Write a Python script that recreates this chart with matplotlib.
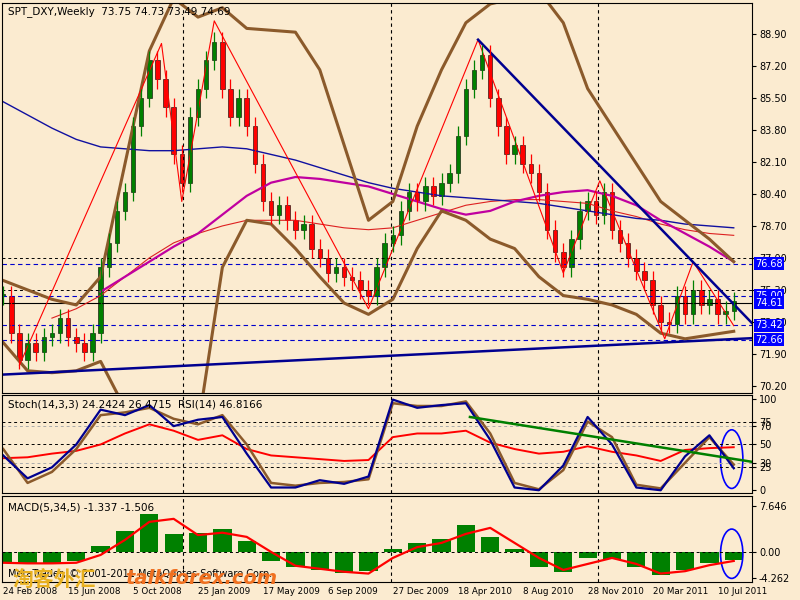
import numpy as np
import matplotlib.pyplot as plt
from matplotlib.patches import Ellipse

# weekly bars, one close every 2 weeks (week 0 = 24 Feb 2008)
closes = [75.0, 73.0, 71.6, 72.5, 72.0, 72.8, 73.0, 73.8, 72.8, 72.5,
          72.0, 73.0, 76.5, 77.8, 79.5, 80.5, 84.0, 85.5, 87.5, 86.5,
          85.0, 82.5, 81.0, 84.5, 86.0, 87.5, 88.5, 86.0, 84.5, 85.5,
          84.0, 82.0, 80.0, 79.3, 79.8, 79.0, 78.5, 78.8, 77.5, 77.0,
          76.2, 76.5, 76.0, 75.8, 75.3, 75.0, 76.5, 77.8, 78.2, 79.5,
          80.5, 80.0, 80.8, 80.3, 81.0, 81.5, 83.5, 86.0, 87.0, 87.8,
          85.5, 84.0, 82.5, 83.0, 82.0, 81.5, 80.5, 78.5, 77.3, 76.5,
          78.0, 79.5, 80.0, 79.3, 80.5, 78.5, 77.8, 77.0, 76.3, 75.8,
          74.5, 73.6, 73.5, 75.0, 74.0, 75.3, 74.5, 74.8, 74.0, 74.2, 74.7]

# indicators sampled every 6 weeks
upper_band = [75.8, 75.3, 74.8, 74.5, 76.0, 82.0, 88.0, 90.8, 89.8, 90.3, 89.2,
              89.1, 89.0, 87.0, 83.0, 79.0, 80.0, 84.0, 87.0, 89.5, 90.5, 90.8,
              91.2, 89.5, 86.0, 84.0, 82.0, 80.0, 79.0, 78.0, 76.8]
lower_band = [72.5, 71.0, 70.9, 71.0, 71.5, 69.0, 66.0, 65.0, 68.0, 76.5, 79.0,
              78.8, 77.5, 76.0, 74.6, 74.0, 74.8, 77.5, 79.5, 79.0, 78.0, 77.5,
              76.0, 75.0, 74.8, 74.5, 74.0, 73.0, 72.7, 72.9, 73.1]
ma_blue = [85.3, 84.6, 83.9, 83.3, 82.9, 82.8, 82.7, 82.7, 82.8, 82.9, 82.8,
           82.5, 82.2, 81.8, 81.4, 81.0, 80.7, 80.5, 80.3, 80.2, 80.1, 80.0,
           79.9, 79.7, 79.5, 79.3, 79.1, 79.0, 78.8, 78.7, 78.6]
ma_magenta = [np.nan, np.nan, np.nan, np.nan, 75.2, 76.0, 76.8, 77.6, 78.3, 79.3, 80.3,
              81.0, 81.3, 81.2, 81.0, 80.8, 80.4, 80.0, 79.6, 79.3, 79.5, 80.0,
              80.3, 80.5, 80.6, 80.3, 79.8, 79.0, 78.3, 77.6, 76.8]
ma_red = [np.nan, np.nan, 73.8, 74.3, 75.0, 76.0, 77.0, 77.8, 78.3, 78.7, 79.0,
          79.0, 79.0, 78.8, 78.6, 78.5, 78.6, 79.0, 79.4, 79.8, 80.0, 80.1,
          80.1, 80.0, 79.9, 79.5, 79.2, 78.8, 78.5, 78.3, 78.2]
stoch_k = [38, 13, 25, 50, 88, 82, 93, 70, 77, 80, 40, 3, 3, 11, 7, 15, 99, 90,
           93, 95, 55, 3, 0, 27, 80, 50, 3, 0, 37, 60, 24]
stoch_d = [45, 8, 20, 45, 82, 85, 90, 78, 72, 82, 50, 8, 5, 8, 9, 12, 95, 92,
           92, 97, 62, 8, 1, 22, 75, 58, 6, 2, 30, 58, 28]
rsi = [35, 36, 40, 43, 50, 62, 72, 65, 55, 60, 45, 38, 36, 34, 32, 33, 58, 62,
       62, 65, 52, 45, 40, 42, 48, 42, 38, 32, 44, 46, 47]
macd_hist = [-1.7, -1.8, -1.8, -1.5, 1.0, 3.5, 6.3, 3.0, 3.2, 3.8, 1.8, -1.5,
             -2.5, -3.0, -3.5, -3.2, 0.5, 1.5, 2.2, 4.5, 2.5, 0.5, -2.5, -3.3,
             -1.0, -1.2, -2.5, -3.8, -3.0, -1.8, -1.3]
macd_signal = [-1.8, -1.9, -1.9, -1.8, -0.5, 2.0, 5.0, 5.5, 2.8, 3.2, 2.5, 0.0,
               -2.3, -2.8, -3.3, -3.6, -1.0, 0.8, 1.5, 3.0, 4.0, 1.5, -1.0, -3.0,
               -2.0, -1.0, -2.0, -3.6, -3.2, -2.2, -1.5]

zigzag_weeks = [4, 39, 44, 52, 90, 117, 138, 147, 163, 170, 180]
zigzag_prices = [71.3, 88.4, 80.0, 89.6, 74.3, 88.6, 76.2, 81.1, 72.7, 76.8, 73.4]
trend_down = ([117, 186], [88.6, 73.2])
trend_up = ([0, 186], [70.8, 72.75])
level_lines = [76.68, 75.00, 74.61, 73.42, 72.66]

date_labels = ["24 Feb 2008", "15 Jun 2008", "5 Oct 2008", "25 Jan 2009", "17 May 2009",
               "6 Sep 2009", "27 Dec 2009", "18 Apr 2010", "8 Aug 2010", "28 Nov 2010",
               "20 Mar 2011", "10 Jul 2011"]
date_weeks = [0, 16, 32, 48, 64, 80, 96, 112, 128, 144, 160, 176]
separators = [44.3, 95.5, 146.6]

bg = "#FBEBD0"
W, H = 800, 600


def px_axes(top, bottom, left=2, right=752):
    return fig.add_axes([left / W, 1 - bottom / H, (right - left) / W, (bottom - top) / H])


fig = plt.figure(figsize=(8, 6), dpi=100, facecolor=bg)
plt.rcParams['font.size'] = 7

ax1 = px_axes(3, 393)
ax2 = px_axes(395, 493)
ax3 = px_axes(496, 582)
for ax in (ax1, ax2, ax3):
    ax.set_facecolor(bg)
    ax.set_xlim(-0.3, 184.5)
    ax.yaxis.tick_right()
    ax.tick_params(axis='y', length=3, labelsize=7, pad=2)
    ax.set_xticks([])
    for s in ax.spines.values():
        s.set_color("black")
        s.set_linewidth(0.8)
    for sx in separators:
        ax.axvline(sx, color="black", ls=(0, (3, 3)), lw=0.8)

ind_weeks = np.arange(0, 181, 6)

# --- price panel
ax1.set_ylim(69.82, 90.55)
ticks = np.arange(70.2, 89.0, 1.7)
ax1.set_yticks(ticks)
ax1.set_yticklabels(["%.2f" % v for v in ticks])
for v in [77.0, 75.3]:
    ax1.axhline(v, color="black", ls=(0, (3, 3)), lw=0.7)
for v in level_lines:
    if v == 74.61:
        ax1.axhline(v, color="black", lw=0.8)
    else:
        ax1.axhline(v, color="#0000CC", ls=(0, (4, 3)), lw=0.8)
    ax1.text(1.004, v, "%.2f" % v, transform=ax1.get_yaxis_transform(), va="center",
             ha="left", color="white", fontsize=7,
             bbox=dict(boxstyle="square,pad=0.15", fc="#0000FF", ec="none"))

ax1.plot(ind_weeks, ma_red, color="#DD2020", lw=0.8)
ax1.plot(ind_weeks, ma_blue, color="#1010A0", lw=1.0)
ax1.plot(ind_weeks, ma_magenta, color="#C000A0", lw=1.6)
ax1.plot(ind_weeks, upper_band, color="#8B5A2B", lw=2.2)
ax1.plot(ind_weeks, lower_band, color="#8B5A2B", lw=2.2)
ax1.plot(zigzag_weeks, zigzag_prices, color="red", lw=0.8)
ax1.plot(*trend_down, color="#000090", lw=1.8)
ax1.plot(*trend_up, color="#000090", lw=1.8)

weeks = np.arange(0, 181, 2)
opens = [closes[0]] + closes[:-1]
for w, o, c in zip(weeks, opens, closes):
    col = "#008000" if c >= o else "#FF0000"
    ax1.vlines(w, min(o, c) - 0.5, max(o, c) + 0.5, color=col, lw=0.9)
    ax1.bar(w, max(abs(c - o), 0.08), bottom=min(o, c), width=1.1, color=col, ec="black", lw=0.4)

ax1.text(0.008, 0.992, "SPT_DXY,Weekly  73.75 74.73 73.49 74.69", transform=ax1.transAxes,
         va="top", fontsize=7.5)

# --- stochastic / RSI panel
ax2.set_ylim(-3, 104)
ax2.set_yticks([0, 25, 30, 50, 70, 75, 100])
for v in [25, 50, 75]:
    ax2.axhline(v, color="black", ls=(0, (3, 3)), lw=0.7)
for v in [30, 70]:
    ax2.axhline(v, color="#AAAAAA", ls=(0, (3, 3)), lw=0.7)
ax2.plot(ind_weeks, rsi, color="#FF0000", lw=1.4)
ax2.plot(ind_weeks, stoch_d, color="#8B5A2B", lw=1.8)
ax2.plot(ind_weeks, stoch_k, color="#000090", lw=1.6)
ax2.plot([115, 186], [80, 30], color="#008000", lw=1.8)
ax2.add_patch(Ellipse((179.5, 34), 5.5, 64, fill=False, ec="#0000FF", lw=1.2))
ax2.text(0.008, 0.95, "Stoch(14,3,3) 24.2424 26.4715  RSI(14) 46.8166", transform=ax2.transAxes,
         va="top", fontsize=7.5)

# --- MACD panel
ax3.set_ylim(-5.0, 9.3)
ax3.set_yticks([-4.262, 0.0, 7.646])
ax3.set_yticklabels(["-4.262", "0.00", "7.646"])
ax3.axhline(0, color="black", ls=(0, (3, 3)), lw=0.7)
ax3.bar(ind_weeks, macd_hist, width=4.5, color="#008000")
ax3.plot(ind_weeks, macd_signal, color="#FF0000", lw=1.6)
ax3.add_patch(Ellipse((179.5, -0.3), 5.5, 8.2, fill=False, ec="#0000FF", lw=1.2))
ax3.text(0.008, 0.92, "MACD(5,34,5) -1.337 -1.506", transform=ax3.transAxes, va="top", fontsize=7.5)
ax3.text(0.008, 0.03, "MetaTrader, © 2001-2011 MetaQuotes Software Corp.", transform=ax3.transAxes,
         va="bottom", fontsize=7)

for w, lab in zip(date_weeks, date_labels):
    fig.text((2 + (w + 0.3) * 4.06) / W, 1 - 591 / H, lab, fontsize=6.3, ha="left", va="center")

fig.text(12 / W, 1 - 579 / H, "淘客外汇", fontsize=15, color="#E8B020",
         family=["Noto Sans CJK SC", "DejaVu Sans"], va="center", fontweight="bold")
fig.text(125 / W, 1 - 579 / H, "talkforex.com", fontsize=14, color="#F07020",
         va="center", fontweight="bold", style="italic")

fig.savefig("out.png", dpi=100, facecolor=bg)
